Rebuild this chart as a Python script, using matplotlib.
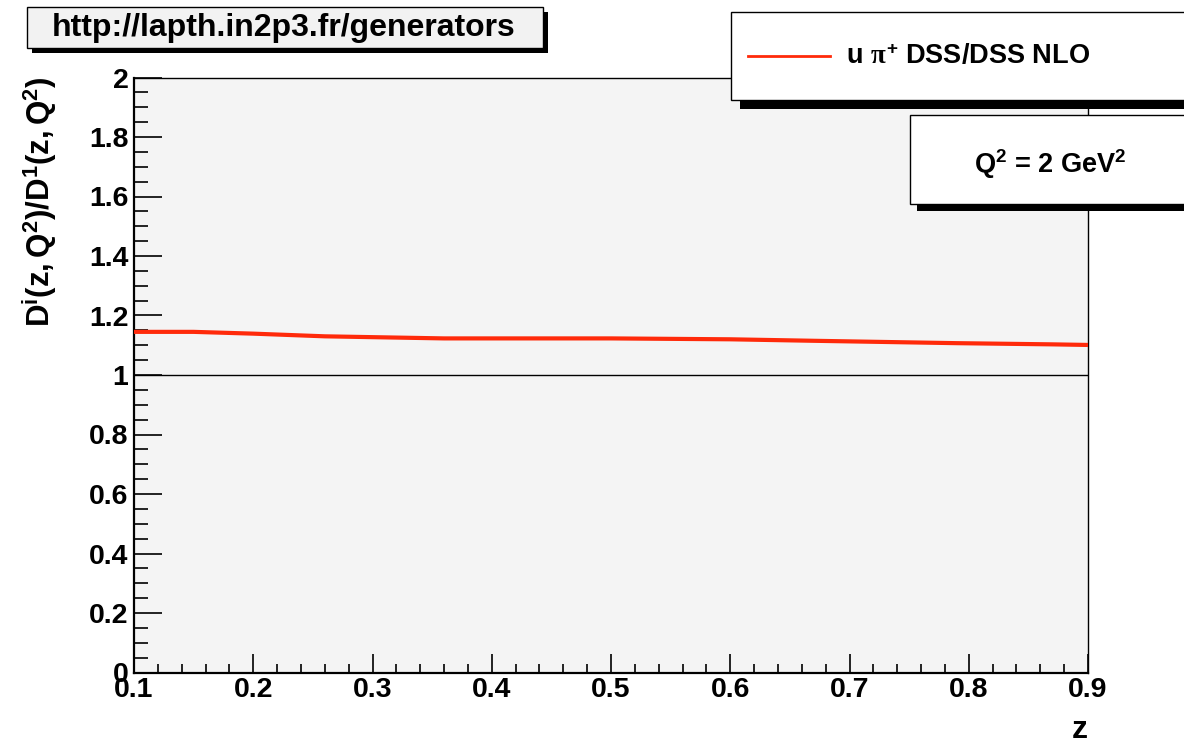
import numpy as np
import matplotlib.pyplot as plt
from matplotlib.patches import Rectangle
from matplotlib.ticker import MultipleLocator

plt.rcParams['font.family'] = ['Liberation Sans', 'DejaVu Sans']
plt.rcParams['font.weight'] = 'bold'
plt.rcParams['mathtext.fontset'] = 'custom'
plt.rcParams['mathtext.rm'] = 'Liberation Sans:bold'
plt.rcParams['mathtext.bf'] = 'Liberation Sans:bold'
plt.rcParams['mathtext.it'] = 'Liberation Serif'

# ratio of u -> pi+ fragmentation, DSS over DSS NLO, at Q^2 = 2 GeV^2
z = [0.10, 0.15, 0.20, 0.26, 0.36, 0.50, 0.60, 0.67, 0.79, 0.87, 0.90]
ratio = [1.145, 1.145, 1.139, 1.130, 1.123, 1.123, 1.120, 1.115, 1.107, 1.103, 1.101]
series_label = r'u $\pi^{+}$ DSS/DSS NLO'
scale_label = r'$\mathrm{Q^{2}}$ = 2 GeV$\mathrm{^{2}}$'

W, H = 1184, 744
fig = plt.figure(figsize=(W / 100, H / 100), dpi=100)
ax = fig.add_axes([134 / W, 1 - 672.5 / H, (1088 - 134) / W, (672.5 - 77.5) / H])
ax.set_facecolor('#f4f4f4')

ax.plot(z, ratio, color='#ff2a0a', lw=3.0, zorder=3)
ax.axhline(1.0, color='black', lw=1.0, zorder=2)

ax.set_xlim(0.1, 0.9)
ax.set_ylim(0, 2)
ax.xaxis.set_major_locator(MultipleLocator(0.1))
ax.xaxis.set_minor_locator(MultipleLocator(0.02))
ax.yaxis.set_major_locator(MultipleLocator(0.2))
ax.yaxis.set_minor_locator(MultipleLocator(0.05))
ax.xaxis.set_major_formatter(plt.FuncFormatter(lambda v, p: f'{v:g}'))
ax.yaxis.set_major_formatter(plt.FuncFormatter(lambda v, p: f'{v:g}'))

ax.tick_params(axis='both', which='both', direction='in', top=False, right=False,
               labelsize=20.5, width=1.2)
ax.tick_params(axis='x', which='major', length=13.5, pad=3)
ax.tick_params(axis='x', which='minor', length=6.5)
ax.tick_params(axis='y', which='major', length=20, pad=4)
ax.tick_params(axis='y', which='minor', length=10)
for s in ['left', 'bottom']:
    ax.spines[s].set_linewidth(1.6)
for s in ['top', 'right']:
    ax.spines[s].set_linewidth(1.0)

fig.text(1088 / W, 1 - 738 / H, 'z', ha='right', va='baseline', fontsize=23)
fig.text(40 / W, 1 - 76 / H, r'$\mathrm{D^{i}(z,Q^{2})/D^{1}(z,Q^{2})}$',
         rotation=90, ha='center', va='top', fontsize=22.5)


def shadow_box(x0, y0, x1, y1, off, face):
    # box with a black drop shadow, given in pixel coordinates from the top left
    fig.add_artist(Rectangle(((x0 + off) / W, 1 - (y1 + off) / H), (x1 - x0) / W,
                             (y1 - y0) / H, transform=fig.transFigure,
                             facecolor='black', edgecolor='black', lw=0, zorder=5))
    fig.add_artist(Rectangle((x0 / W, 1 - y1 / H), (x1 - x0) / W, (y1 - y0) / H,
                             transform=fig.transFigure, facecolor=face,
                             edgecolor='black', lw=1.0, zorder=6))


shadow_box(27, 7, 543, 48, 5, '#f2f2f2')
fig.text(284 / W, 1 - 28 / H, 'http://lapth.in2p3.fr/generators', ha='center',
         va='center', fontsize=23, zorder=7)

shadow_box(731, 12, 1200, 100, 9, 'white')
fig.add_artist(plt.Line2D([748 / W, 830 / W], [1 - 56 / H, 1 - 56 / H],
                          transform=fig.transFigure, color='#ff2a0a', lw=2.0, zorder=7))
fig.text(846 / W, 1 - 57 / H, series_label, ha='left', va='center', fontsize=19.5, zorder=7)

shadow_box(910, 115, 1200, 204, 7, 'white')
fig.text(1050 / W, 1 - 164 / H, scale_label, ha='center', va='center', fontsize=19.5, zorder=7)

fig.savefig('out.png', dpi=100)
